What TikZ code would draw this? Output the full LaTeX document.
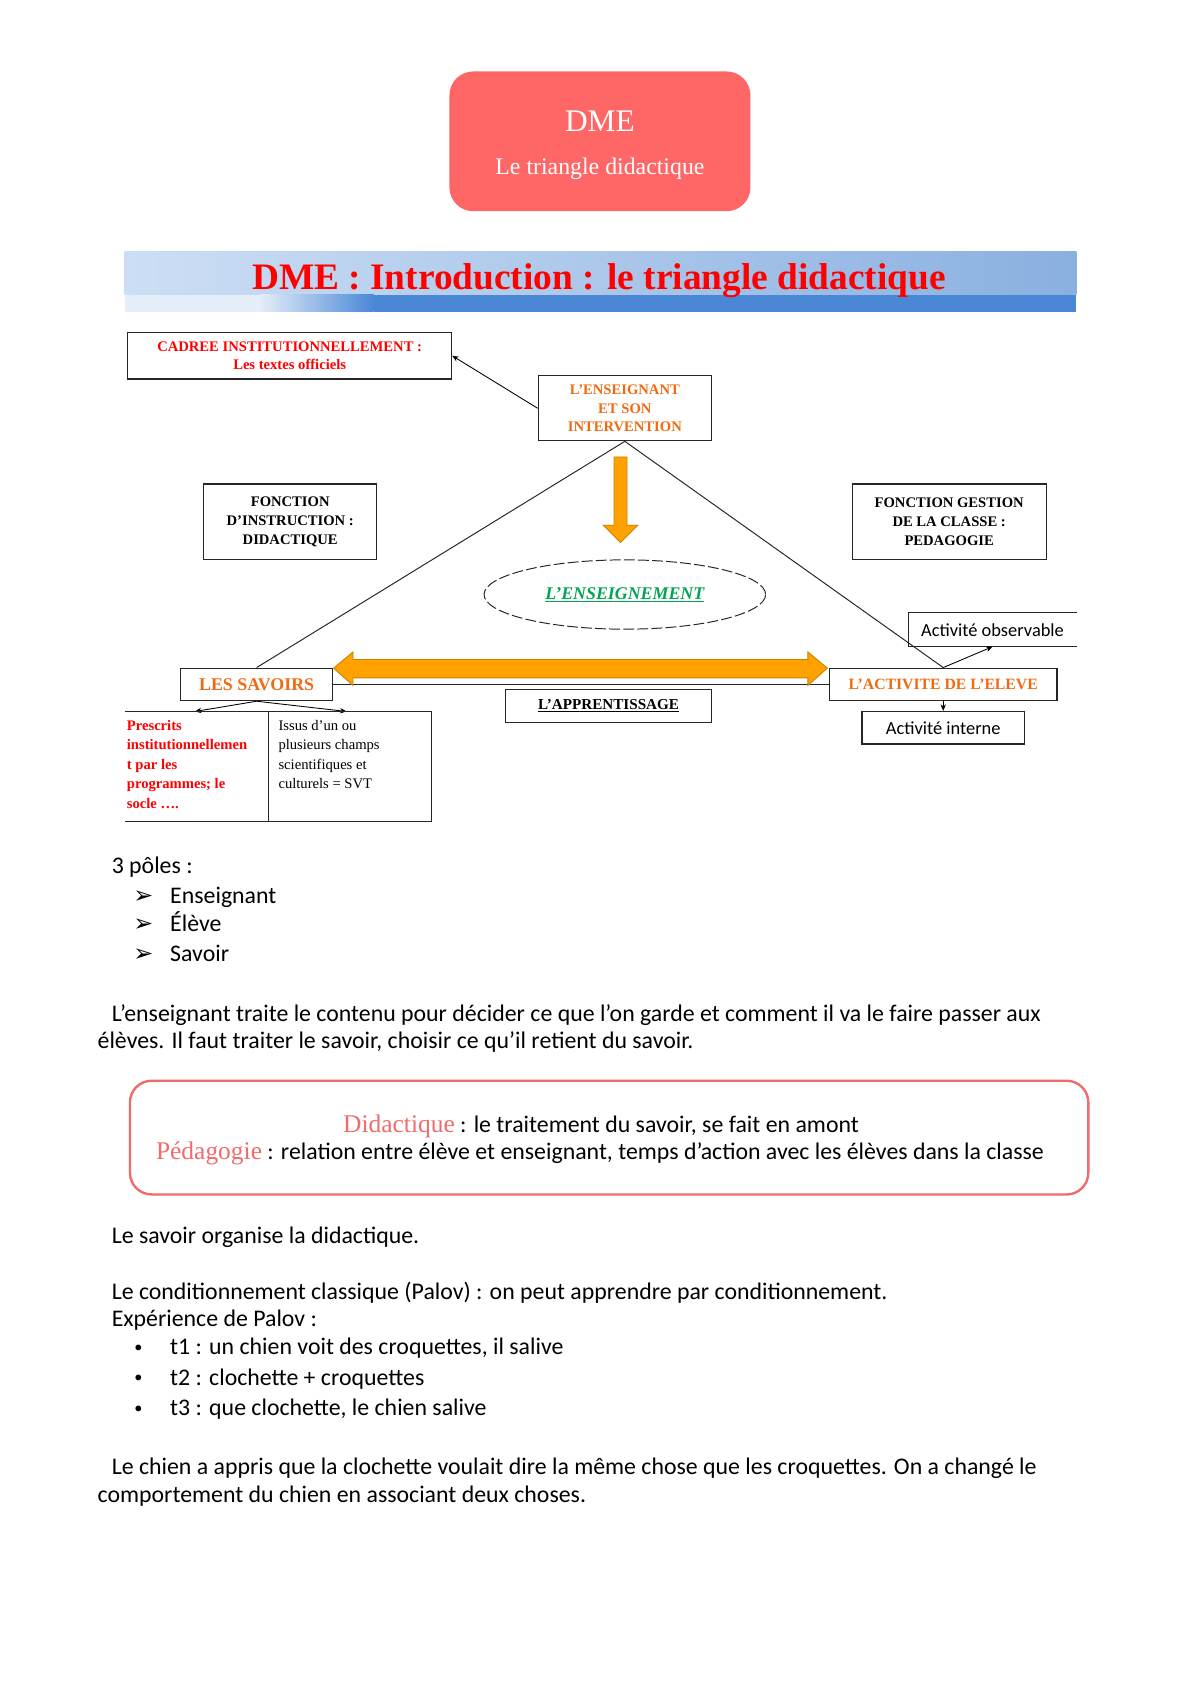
\documentclass[tikz,border=0pt]{standalone}
\usepackage{fontspec}
\setmainfont{Carlito}
\newfontfamily\tnr{Liberation Serif}
\newfontfamily\djv{DejaVu Sans}
\usetikzlibrary{arrows.meta,shapes.geometric}
\definecolor{boxred}{HTML}{FF6666}
\definecolor{orangetxt}{HTML}{F26A10}
\definecolor{arrorange}{HTML}{FFA200}
\definecolor{arredge}{HTML}{CC8000}
\definecolor{lblue}{HTML}{CCDEF4}
\definecolor{mblue}{HTML}{8AB0E0}
\definecolor{dblue}{HTML}{4A88D6}
\definecolor{paleblue}{HTML}{E4EDF8}
\definecolor{salmon}{HTML}{F26B6B}
\definecolor{grn}{HTML}{00A651}
\begin{document}
\begin{tikzpicture}[x=1pt,y=-1pt,
  frame/.style={draw=black!85, line width=1.1pt, inner sep=0pt, align=center},
  dlabel/.style={font=\tnr\bfseries\fontsize{13.5}{17.5}\selectfont},
  body/.style={anchor=base west, inner sep=0pt, font=\fontsize{22}{26}\selectfont},
  arrowbullet/.style={anchor=base west, inner sep=0pt, font=\djv\fontsize{22}{24}\selectfont},
  dotbullet/.style={anchor=base west, inner sep=0pt, font=\fontsize{15}{18}\selectfont},
  thinarrow/.style={-{Stealth[length=6pt,width=5pt]}, line width=0.8pt},
  link/.style={line width=0.9pt, draw=black!85},
  blockarrow/.style={fill=arrorange, draw=arredge, line width=0.8pt},
]
\useasboundingbox[fill=white] (0,0) rectangle (1108,1568);

% ---------- top box ----------
\node[fill=boxred, rounded corners=22pt, minimum width=278pt, minimum height=129pt, inner sep=0pt] (top) at (554,130.5) {};
\node[text=white, font=\tnr\fontsize{29}{30}\selectfont] (topa) at (554,112) {DME};
\node[text=white, font=\tnr\fontsize{22}{24}\selectfont] (topb) at (554,156) {Le triangle didactique};

% ---------- banner ----------
\shade[left color=lblue, right color=mblue] (115,232) rectangle (994,272);
\fill[paleblue] (115,272) rectangle (240,288);
\shade[left color=paleblue, right color=dblue] (240,272) rectangle (345,288);
\fill[dblue] (345,272) rectangle (994,288);
\node[text=red, font=\tnr\bfseries\fontsize{34.5}{36}\selectfont] (title) at (553,259) {DME : Introduction : le triangle didactique};

% ---------- diagram boxes ----------
\node[frame, dlabel, text=red, minimum width=299pt, minimum height=43pt] (cadree) at (267.5,328.5) {CADREE INSTITUTIONNELLEMENT :\\Les textes officiels};
\node[frame, dlabel, text=orangetxt, minimum width=160pt, minimum height=60pt] (ens) at (577,377) {L’ENSEIGNANT\\ET SON\\INTERVENTION};
\node[frame, dlabel, minimum width=160pt, minimum height=70pt] (finstr) at (268,482) {FONCTION\\D’INSTRUCTION :\\DIDACTIQUE};
\node[frame, dlabel, minimum width=179pt, minimum height=70pt] (fgest) at (876.5,482) {FONCTION GESTION\\DE LA CLASSE :\\PEDAGOGIE};
\node[draw=black!85, line width=0.9pt, dash pattern=on 10pt off 3pt, ellipse, minimum width=260pt, minimum height=64pt, inner sep=0pt, text=grn, font=\tnr\bfseries\itshape\fontsize{16.5}{18}\selectfont] (ell) at (577,549) {\underline{L’ENSEIGNEMENT}};

\node[inner sep=0pt, minimum width=155pt, minimum height=31pt, font=\fontsize{17}{19}\selectfont] (obs) at (916.5,581.5) {Activité observable};
\draw[link] (obs.north east) -- (obs.north west) -- (obs.south west) -- (obs.south east);

\node[frame, font=\tnr\bfseries\fontsize{16.5}{18}\selectfont, text=orangetxt, minimum width=140pt, minimum height=30pt] (sav) at (237,632) {LES SAVOIRS};
\node[frame, font=\tnr\bfseries\fontsize{14.5}{16}\selectfont, text=orangetxt, minimum width=210pt, minimum height=30pt] (act) at (871,632) {L’ACTIVITE DE L’ELEVE};
\node[frame, font=\tnr\bfseries\fontsize{14}{16}\selectfont, minimum width=190pt, minimum height=30pt] (appr) at (562,652) {\underline{L’APPRENTISSAGE}};
\node[frame, font=\fontsize{17}{19}\selectfont, minimum width=150pt, minimum height=30pt] (interne) at (871,672) {Activité interne};

% ---------- triangle ----------
\draw[link] (ens.south) -- (sav.north);
\draw[link] (ens.south) -- (act.north);
\draw[link] (sav.east) -- (act.west);

% ---------- block arrows ----------
\fill[blockarrow] (567,422) -- (579,422) -- (579,485) -- (589,485) -- (573,501) -- (557,485) -- (567,485) -- cycle;
\fill[blockarrow] (308,617) -- (326,602) -- (326,609) -- (746,609) -- (746,602) -- (764,617) -- (746,633) -- (746,626) -- (326,626) -- (326,633) -- cycle;

% ---------- connectors ----------
\draw[thinarrow] (ens.west) -- (cadree.east);
\draw[thinarrow] (act.north) -- (obs.south);
\draw[thinarrow] (act.south) -- (interne.north);
\coordinate (sl) at (180,657);
\coordinate (sr) at (320,657);
\draw[thinarrow] (sav.south) -- (sl);
\draw[thinarrow] (sav.south) -- (sr);

% ---------- savoirs table ----------
\draw[link] (115,657) -- (398,657) -- (398,759) -- (115,759);
\draw[link] (248,657) -- (248,759);
\node[anchor=north west, align=left, inner sep=0pt, text=red, font=\tnr\bfseries\fontsize{13.5}{18}\selectfont] (presc) at (117,665) {Prescrits\\institutionnellemen\\t par les\\programmes; le\\socle ….};
\node[anchor=north west, align=left, inner sep=0pt, font=\tnr\fontsize{13.5}{18}\selectfont] (issus) at (257,665) {Issus d’un ou\\plusieurs champs\\scientifiques et\\culturels = SVT};

% ---------- body text ----------
\node[body] (p0) at (103,807) {3 pôles :};
\node[arrowbullet] (a1) at (123,834) {➢};
\node[arrowbullet] (a2) at (123,860) {➢};
\node[arrowbullet] (a3) at (123,888) {➢};
\node[body] (p1) at (157,834) {Enseignant};
\node[body] (p2) at (157,860) {Élève};
\node[body] (p3) at (157,888) {Savoir};

\node[body] (q1) at (103,943) {L’enseignant traite le contenu pour décider ce que l’on garde et comment il va le faire passer aux};
\node[body] (q2) at (90,968) {élèves. Il faut traiter le savoir, choisir ce qu’il retient du savoir.};

\node[draw=salmon, line width=2.2pt, rounded corners=20pt, minimum width=885pt, minimum height=105pt, inner sep=0pt] (defbox) at (562.5,1050.5) {};
\node[anchor=base, inner sep=0pt, font=\fontsize{22}{26}\selectfont] (d1) at (555,1046) {{\tnr\color{salmon}\fontsize{23.5}{26}\selectfont Didactique} : le traitement du savoir, se fait en amont};
\node[anchor=base, inner sep=0pt, font=\fontsize{22}{26}\selectfont] (d2) at (554,1071) {{\tnr\color{salmon}\fontsize{23.5}{26}\selectfont Pédagogie} : relation entre élève et enseignant, temps d’action avec les élèves dans la classe};

\node[body] (r1) at (103,1148) {Le savoir organise la didactique.};
\node[body] (r2) at (103,1200) {Le conditionnement classique (Palov) : on peut apprendre par conditionnement.};
\node[body] (r3) at (103,1225) {Expérience de Palov :};
\node[dotbullet] (b1) at (124,1249) {•};
\node[dotbullet] (b2) at (124,1277) {•};
\node[dotbullet] (b3) at (124,1305) {•};
\node[body] (t1) at (157,1251) {t1 : un chien voit des croquettes, il salive};
\node[body] (t2) at (157,1279) {t2 : clochette + croquettes};
\node[body] (t3) at (157,1307) {t3 : que clochette, le chien salive};

\node[body] (s1) at (103,1362) {Le chien a appris que la clochette voulait dire la même chose que les croquettes. On a changé le};
\node[body] (s2) at (90,1387) {comportement du chien en associant deux choses.};
\end{tikzpicture}
\end{document}
